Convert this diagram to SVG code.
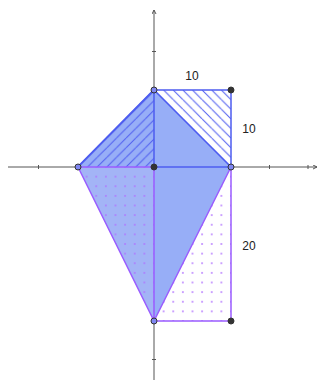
<svg xmlns="http://www.w3.org/2000/svg" width="321" height="380" viewBox="0 0 321 380">
<defs>
<style>
.axis{stroke:#555;stroke-width:1;fill:none}
.tick{stroke:#555;stroke-width:1}
.bl{stroke:#4d5cf0;stroke-width:1.5;fill:none;stroke-linejoin:round}
.pu{stroke:#9a5cff;stroke-width:1.5;fill:none;stroke-linejoin:round}
.open{fill:#7f86f2;stroke:#333;stroke-width:1}
.fix{fill:#333;stroke:#333;stroke-width:1}
.lbl{font-family:"Liberation Sans",Arial,sans-serif;font-size:12px;fill:#222;text-anchor:middle}
</style>
<pattern id="hatchBack" patternUnits="userSpaceOnUse" x="154" y="90" width="9.625" height="9.625">
<path d="M0,0L9.625,9.625M-9.625,0L0,9.625M0,-9.625L9.625,0" stroke="#4d5cf0" stroke-width="1"/>
</pattern>
<pattern id="hatchFwd" patternUnits="userSpaceOnUse" x="78" y="167" width="9.625" height="9.625">
<path d="M0,9.625L9.625,0M-9.625,9.625L0,0M9.625,9.625L19.25,0" stroke="#4d5cf0" stroke-width="1"/>
</pattern>
<pattern id="dots" patternUnits="userSpaceOnUse" x="149.1875" y="162.1875" width="9.625" height="9.625">
<circle cx="4.8125" cy="4.8125" r="0.85" fill="#b070ff"/>
</pattern>
<marker id="arr" markerWidth="5" markerHeight="5" refX="4" refY="2.5" orient="auto" markerUnits="userSpaceOnUse">
<path d="M0,0.5L4,2.5L0,4.5" fill="none" stroke="#555" stroke-width="1"/>
</marker>
</defs>
<rect width="321" height="380" fill="#fff"/>
<g id="axes">
<line class="axis" x1="8" y1="167" x2="317" y2="167" marker-end="url(#arr)"/>
<line class="axis" x1="154" y1="380" x2="154" y2="10" marker-end="url(#arr)"/>
<g class="tick">
<line x1="38.5" y1="165" x2="38.5" y2="169"/><line x1="77" y1="165" x2="77" y2="169"/><line x1="115.5" y1="165" x2="115.5" y2="169"/><line x1="192.5" y1="165" x2="192.5" y2="169"/><line x1="231" y1="165" x2="231" y2="169"/><line x1="269.5" y1="165" x2="269.5" y2="169"/><line x1="308" y1="165" x2="308" y2="169"/>
<line x1="152" y1="51.5" x2="156" y2="51.5"/><line x1="152" y1="90" x2="156" y2="90"/><line x1="152" y1="128.5" x2="156" y2="128.5"/><line x1="152" y1="205.5" x2="156" y2="205.5"/><line x1="152" y1="244" x2="156" y2="244"/><line x1="152" y1="282.5" x2="156" y2="282.5"/><line x1="152" y1="321" x2="156" y2="321"/><line x1="152" y1="359.5" x2="156" y2="359.5"/>
</g>
</g>
<g id="kite-top-middle"><polygon points="154,90 231,167 154,167" fill="#97aef7"/></g>
<g id="kite-bottom-middle"><polygon points="154,167 231,167 154,321" fill="#97aef7"/></g>
<g id="left-top"><polygon points="78,167 154,90 154,167" fill="#97aef7"/><polygon points="78,167 154,90 154,167" fill="url(#hatchFwd)"/></g>
<g id="left-bottom"><polygon points="78,167 154,167 154,321" fill="#a3b4f6"/><polygon points="78,167 154,167 154,321" fill="url(#dots)"/></g>
<g id="top-right"><polygon points="154,90 231,90 231,167" fill="url(#hatchBack)"/></g>
<g id="bottom-right"><polygon points="231,167 231,321 154,321" fill="url(#dots)"/></g>
<g id="edges">
<path class="bl" d="M154,90L231,90L231,167L154,90L154,167M78,167L154,90"/>
<path class="bl" d="M78.5,166L154,89.5" stroke-width="2.5"/>
<path class="bl" d="M154,167L231,167"/>
<path class="pu" d="M78,167L154,167M78,167L154,321L231,167L231,321L154,321M154,167L154,321"/>
</g>
<g id="points">
<circle class="open" cx="154" cy="90" r="3"/>
<circle class="open" cx="78" cy="167" r="3"/>
<circle class="open" cx="231" cy="167" r="3"/>
<circle class="open" cx="154" cy="321" r="3"/>
<circle class="fix" cx="154" cy="167" r="3"/>
<circle class="fix" cx="231" cy="90" r="3"/>
<circle class="fix" cx="231" cy="321" r="3"/>
</g>
<g id="labels">
<text class="lbl" x="192" y="80">10</text>
<text class="lbl" x="249" y="133">10</text>
<text class="lbl" x="249" y="250">20</text>
</g>
</svg>
